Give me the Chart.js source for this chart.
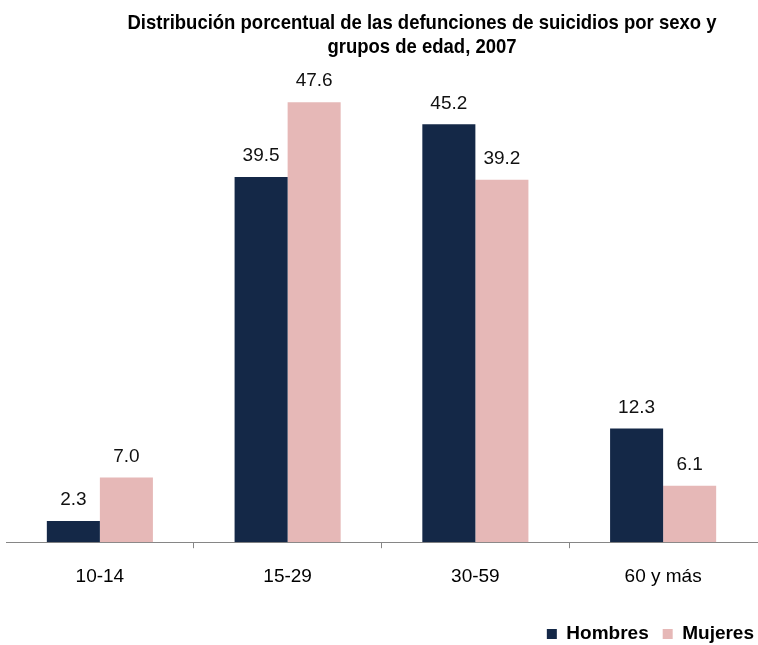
<!DOCTYPE html>
<html>
<head>
<meta charset="utf-8">
<script src="https://cdn.jsdelivr.net/npm/chart.js@4/dist/chart.umd.min.js"></script>
<style>
  html, body { margin: 0; padding: 0; background: #ffffff; }
  canvas { display: block; }
</style>
</head>
<body>
<canvas id="c" width="758" height="645"></canvas>
<script>
const categories = ['10-14', '15-29', '30-59', '60 y más'];
const hombres = [2.3, 39.5, 45.2, 12.3];
const mujeres = [7.0, 47.6, 39.2, 6.1];
const seriesNames = ['Hombres', 'Mujeres'];
const titleLines = ['Distribución porcentual de las defunciones de suicidios por sexo y', 'grupos de edad, 2007'];

const FONT = '"Liberation Sans", Arial, sans-serif';
const LEGEND_PAD = 14;
const LEGEND_FONT = 19;

const titlePlugin = {
  id: 'narrowTitle',
  afterDraw(chart) {
    const ctx = chart.ctx;
    ctx.save();
    ctx.font = 'bold 21px ' + FONT;
    ctx.fillStyle = '#000000';
    ctx.textAlign = 'center';
    ctx.textBaseline = 'alphabetic';
    const w0 = ctx.measureText(titleLines[0]).width;
    const sx = 589 / w0;
    const cx = 422;
    const baselines = [29, 53];
    titleLines.forEach((t, i) => {
      ctx.save();
      ctx.translate(cx, baselines[i]);
      ctx.scale(sx, 1);
      ctx.fillText(t, 0, 0);
      ctx.restore();
    });
    ctx.restore();
  }
};

const legendPlace = {
  id: 'legendPlace',
  afterLayout(chart) {
    const lg = chart.legend;
    if (!lg) return;
    const dy = 634 - (lg.top + LEGEND_PAD + LEGEND_FONT / 2);
    const dx = 754 - (lg.right - LEGEND_PAD);
    lg.top += dy; lg.bottom += dy;
    lg.left += dx; lg.right += dx;
  }
};

const labelPlugin = {
  id: 'valueLabels',
  afterDatasetsDraw(chart) {
    const ctx = chart.ctx;
    ctx.save();
    ctx.font = '19px ' + FONT;
    ctx.fillStyle = '#111111';
    ctx.textAlign = 'center';
    ctx.textBaseline = 'middle';
    chart.data.datasets.forEach((ds, di) => {
      const meta = chart.getDatasetMeta(di);
      meta.data.forEach((el, i) => {
        ctx.fillText(ds.data[i].toFixed(1), el.x, el.y - 21);
      });
    });
    ctx.restore();
  }
};

new Chart(document.getElementById('c'), {
  type: 'bar',
  data: {
    labels: categories,
    datasets: [
      { label: seriesNames[0], data: hombres, backgroundColor: '#142847', borderWidth: 0 },
      { label: seriesNames[1], data: mujeres, backgroundColor: '#E6B8B7', borderWidth: 0 }
    ]
  },
  options: {
    responsive: false,
    devicePixelRatio: 1,
    animation: false,
    layout: { padding: { top: 80, left: 6, right: 1, bottom: -3 } },
    datasets: { bar: { categoryPercentage: 0.565, barPercentage: 1.0 } },
    scales: {
      x: {
        offset: true,
        grid: {
          display: true,
          offset: true,
          drawOnChartArea: false,
          drawTicks: true,
          tickLength: 6,
          color: (ctx) => (ctx.index > 0 && ctx.index < categories.length) ? '#868686' : 'rgba(0,0,0,0)'
        },
        border: { display: true, color: '#868686', width: 1 },
        ticks: { font: { family: FONT, size: 19 }, color: '#000000', padding: 17 }
      },
      y: { display: false, min: 0, max: 50 }
    },
    plugins: {
      title: { display: false },
      tooltip: { enabled: false },
      legend: {
        display: true,
        position: 'bottom',
        align: 'end',
        labels: {
          boxWidth: 10,
          boxHeight: 10,
          padding: LEGEND_PAD,
          color: '#000000',
          font: { family: FONT, size: LEGEND_FONT, weight: 'bold' }
        }
      }
    }
  },
  plugins: [titlePlugin, labelPlugin, legendPlace]
});
</script>
</body>
</html>
